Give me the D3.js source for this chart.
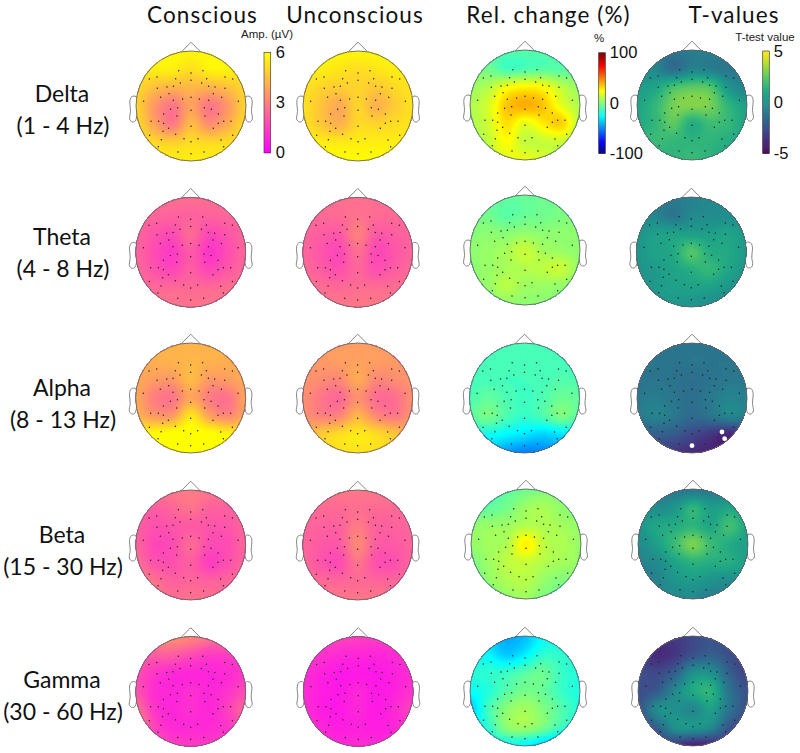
<!DOCTYPE html>
<html><head><meta charset="utf-8">
<script src="https://cdn.jsdelivr.net/npm/d3@7/dist/d3.min.js"></script>
<style>html,body{margin:0;padding:0;background:#fff}svg{display:block}</style>
</head><body><svg id="c" width="800" height="753"></svg>
<script>
// ---------- labels ----------
const columnTitles = ["Conscious","Unconscious","Rel. change (%)","T-values"];
const bandNames = ["Delta","Theta","Alpha","Beta","Gamma"];
const bandRanges = ["(1 - 4 Hz)","(4 - 8 Hz)","(8 - 13 Hz)","(15 - 30 Hz)","(30 - 60 Hz)"];

// ---------- field samples on a 7x7 scalp grid, rows front to back, columns left to right ----------
const deltaConscious = [[5.6,5.7,5.8,5.8,5.8,5.7,5.6],[5.5,5.6,5.6,5.2,5.7,5.7,5.5],[5.1,4.5,4.2,4.3,4.2,4.5,5.1],[5.0,3.6,2.8,3.8,2.8,3.6,5.0],[5.2,3.9,2.9,4.4,3.4,4.1,5.2],[5.5,5.1,4.9,5.2,5.1,5.2,5.5],[5.7,5.7,5.6,5.6,5.6,5.7,5.7]];
const deltaUnconscious = [[5.7,5.8,5.8,5.8,5.8,5.8,5.7],[5.6,5.6,5.4,5.2,5.4,5.6,5.6],[5.4,5.0,4.8,5.0,4.7,5.1,5.4],[5.3,4.6,4.0,5.0,4.2,4.8,5.3],[5.4,4.7,4.2,5.1,5.0,5.2,5.4],[5.7,5.6,5.5,5.6,5.6,5.6,5.7],[5.9,5.9,5.9,5.9,5.9,5.9,5.9]];
const deltaChange = [[-3,-5,-8,-8,-8,-5,-3],[0,-3,-12,-10,-8,-8,-3],[6,10,22,26,24,12,5],[9,17,36,41,36,20,9],[9,16,31,20,29,34,11],[9,13,25,13,14,15,9],[12,15,20,22,18,12,10]];
const deltaT = [[-.3,-.6,-1,-.8,-.6,-.5,-.3],[0,-.4,-1.5,-.6,-.8,-1,-.6],[.5,.8,2,2.4,2.2,.2,-.6],[.8,1.6,2.9,3.1,2.9,1.5,.6],[1,1.6,2.5,1.2,1.9,1.6,.8],[1.6,1.8,1.6,1.5,1.5,1.2,.8],[1.4,1.5,1.5,1.8,1.4,1,.8]];

const thetaConscious = [[2.6,2.6,2.6,2.6,2.6,2.6,2.6],[2.5,2.4,2.3,2.3,2.3,2.4,2.5],[2.4,2,1.8,2.5,1.7,2,2.4],[2.4,1.8,1.4,2.1,1.3,1.8,2.4],[2.5,2,1.7,2.2,1.7,2.1,2.5],[2.6,2.5,2.5,2.5,2.5,2.6,2.6],[2.7,2.7,2.7,2.7,2.7,2.7,2.7]];
const thetaUnconscious = [[2.6,2.6,2.6,2.6,2.6,2.6,2.6],[2.5,2.5,2.5,2.7,2.5,2.5,2.5],[2.4,2.2,2.1,3.0,2.1,2.2,2.4],[2.4,2,1.7,2.6,1.7,2,2.4],[2.5,2.2,1.9,2.4,1.9,2.2,2.5],[2.7,2.6,2.5,2.6,2.6,2.6,2.7],[2.8,2.8,2.8,2.8,2.8,2.8,2.8]];
const thetaChange = [[-1,-2,-5,-5,-3,-1,0],[0,-3,-8,-5,-3,-1,1],[1,2,1,3,2,3,2],[3,5,8,14,7,5,3],[3,5,8,10,12,14,4],[3,5,11,6,5,4,2],[2,3,3,3,3,2,2]];
const thetaT = [[-.3,-.5,-.8,-.6,-.3,-.2,0],[0,-.4,-1.1,-.3,-.2,-.1,.1],[.2,.6,.7,.6,.6,.8,.3],[.2,.7,1,2.3,1.2,1.0,.4],[.2,.4,.8,1.2,1.6,.9,.2],[.2,.4,.6,.7,.6,.2,.1],[.1,.2,.3,.2,-.1,0,.1]];

const alphaConscious = [[4.2,4.2,4.2,4.2,4.2,4.2,4.2],[4.1,4.1,4.2,4.3,4.2,4.1,4.1],[4,3.7,3.6,4.4,3.6,3.7,4],[4.0,3,2.8,3.9,3,2.7,3.9],[4.3,3.7,3.7,5.4,3.9,3.3,4],[5.9,6,6.2,6.3,6.2,5.8,5.4],[6.3,6.3,6.3,6.3,6.3,6.3,6.3]];
const alphaUnconscious = [[3.7,3.7,3.7,3.7,3.7,3.7,3.7],[3.6,3.6,3.7,3.8,3.7,3.6,3.6],[3.5,3.3,3.2,4,3.2,3.3,3.5],[3.4,2.8,2.5,3.4,2.6,2.6,3.4],[3.5,3.1,3.2,4.3,3.3,2.9,3.5],[4.1,4.8,5.2,5.5,5.2,4.7,4.0],[4.5,5.0,5.3,5.3,5.2,4.8,4.3]];
const alphaChange = [[-11,-11,-10,-10,-10,-11,-11],[-12,-11,-11,-11,-11,-11,-12],[-12,-11,-12,-12,-11,-9,-10],[-10,-6,-10,-13,-10,-4,-6],[-8,-2,-10,-15,-10,-1,-8],[-20,-22,-26,-30,-34,-30,-24],[-34,-38,-44,-50,-48,-42,-34]];
const alphaT = [[-1.2,-1.2,-1.2,-1.2,-1.2,-1.2,-1.2],[-1.1,-1.1,-1.2,-1.1,-1.1,-1.1,-1.1],[-1.2,-1.1,-1.2,-1.4,-1.2,-1,-1],[-1,-.8,-1.1,-1.4,-1.0,-.5,-.7],[-1,-.6,-1,-1.6,-1.2,-.5,-.7],[-2.2,-2,-2.2,-2.8,-3.4,-4,-3.4],[-3,-3,-3.4,-3.8,-4,-4.2,-3.6]];

const betaConscious = [[2.9,2.9,2.8,2.9,2.8,2.7,2.7],[2.4,2.2,2.4,2.7,2.3,2.3,2.4],[2.3,1.9,2.0,2.1,2,2,2.4],[2.4,1.7,1.8,2.5,1.8,1.8,2.4],[2.6,2.0,1.9,2.2,1.5,1.9,2.4],[3.2,2.7,2.3,2.4,2.3,2.4,2.7],[3,2.8,2.6,2.7,2.6,2.6,2.7]];
const betaUnconscious = [[2.8,2.8,2.8,2.8,2.8,2.8,2.8],[2.5,2.5,2.5,2.6,2.5,2.5,2.5],[2.4,2.3,2.3,2.9,2.3,2.3,2.4],[2.4,2.1,2.1,3.2,2.2,2.1,2.4],[2.5,2,1.8,2.7,1.9,1.9,2.4],[2.7,2.5,2.4,2.5,2.4,2.4,2.7],[2.8,2.8,2.8,2.8,2.8,2.8,2.8]];
const betaChange = [[-6,-8,-6,-3,0,2,2],[-5,-6,-2,6,8,3,2],[3,5,6,10,9,7,4],[4,7,10,28,12,9,5],[-1,6,12,14,10,7,5],[-3,4,9,11,4,0,3],[-1,0,4,6,0,-3,-1]];
const betaT = [[-.6,-.8,-1,-1.1,-1,-.6,-.3],[.2,-.2,.2,1.5,.5,.8,.4],[.2,.9,1.1,1.5,.9,2,.8],[-.2,.6,1.8,3.0,1.8,1.1,.6],[-.5,-.2,.8,1.4,1.2,1.2,.6],[-.7,-.5,.2,.5,.1,-.1,.4],[-.4,-.3,-.3,-.3,-.8,-.3,.1]];

const gammaConscious = [[3.3,3.4,3.4,3.2,2.8,2.6,2.4],[2.4,2.2,2.2,1.8,1.4,1.5,1.6],[1.9,1.3,1,.9,.9,1,1.4],[2.0,1.1,.9,1.1,.9,1.2,1.8],[2.8,1.3,.9,1.1,.9,1.5,2.4],[3.3,1.7,1,1,1,1.3,1.9],[2.8,2,1.6,1.4,1.4,1.7,1.9]];
const gammaUnconscious = [[1.6,1.6,1.6,1.5,1.4,1.4,1.4],[1.3,1.2,1,.9,.9,1,1.2],[1.1,.8,.6,.6,.6,.8,1.1],[1,.7,.6,.9,.6,.8,1.2],[1.1,.7,.6,.9,.6,1,1.6],[1.2,.9,.7,.8,.7,.9,1.3],[1.3,1.1,1,1,1,1,1.2]];
const gammaChange = [[-30,-36,-41,-38,-25,-22,-20],[-22,-26,-36,-28,-16,-16,-18],[-18,-16,-14,-8,-4,-14,-18],[-24,-18,-8,-2,-5,-14,-20],[-36,-12,2,7,0,-9,-18],[-28,-16,2,5,-2,-14,-20],[-26,-24,-24,-26,-36,-40,-28]];
const gammaT = [[-3.2,-3.4,-3.3,-2.8,-2.4,-2.8,-3],[-3,-3.8,-3.4,-2.5,-2,-2.6,-3.2],[-2.6,-2.8,-2,0,0,-2,-3],[-2.6,-2.2,-.4,1,1.4,-1.2,-2.6],[-2.6,-.2,0,-.4,.6,-1.2,-2.6],[-3,-2,0,.2,-.4,-2.4,-3],[-3.6,-3.4,-3.4,-4.2,-4,-3.4,-3.4]];

const fields = [
  [deltaConscious,deltaUnconscious,deltaChange,deltaT],
  [thetaConscious,thetaUnconscious,thetaChange,thetaT],
  [alphaConscious,alphaUnconscious,alphaChange,alphaT],
  [betaConscious,betaUnconscious,betaChange,betaT],
  [gammaConscious,gammaUnconscious,gammaChange,gammaT]
];

// electrode locations in head units (x right, y back)
const electrodes = [[-.224,-.642],[0,-.6],[.218,-.642],[-.758,-.491],[-.618,-.527],[-.279,-.497],[0,-.467],[.285,-.497],[.618,-.527],[.758,-.491],[-.194,-.418],[.194,-.418],[-.612,-.321],[-.436,-.345],[-.321,-.358],[.321,-.358],[.436,-.345],[.618,-.321],[-.4,-.224],[.406,-.224],[-.552,-.158],[-.152,-.127],[0,-.158],[.152,-.127],[.558,-.158],[-.321,-.103],[.321,-.103],[-.861,-.085],[.861,-.085],[-.242,.03],[.242,.03],[0,.079],[-.37,.06],[.37,.06],[-.497,.145],[.497,.145],[-.255,.182],[.255,.182],[-.727,.279],[-.588,.279],[-.497,.315],[.497,.315],[.594,.279],[.727,.279],[-.406,.406],[.406,.406],[0,.37],[-.509,.461],[-.752,.533],[-.279,.515],[.758,.533],[-.539,.612],[-.127,.594],[.127,.594],[.545,.618],[0,.648],[-.594,.739],[.594,.739],[-.236,.836],[0,.867],[.236,.836]];
const significantAlphaT = [54,57,59];

// colour scale definitions
const ampTicks = [0,3,6], changeTicks = [-100,0,100], tTicks = [-5,0,5];
const jetStops = ["#000080","#0000ff","#00ffff","#ffff00","#ff0000","#800000"];
const jetDomain = [-100,-75,-25,25,75,100];

// ---------- layout (not data) ----------
const colCx = [[191,358,525,692],[190.7,357.7,525,691.3],[190.7,357.7,524.5,692],[190.7,357.7,526,693],[190.7,358.3,525,693]];
const rowCy = [[106,106,105,105],[252.3,252.3,250,252],[398,398,398,398],[545,545,544,544],[691.5,691.5,691,691]];
const R = 55, N = 70;

const ampColor = d3.scaleLinear().domain([0,6]).range(["#ff00ff","#ffff00"]).clamp(true);
const jetColor = d3.scaleLinear().domain(jetDomain).range(jetStops).clamp(true);
const tColor = d3.scaleSequential(d3.interpolateViridis).domain([-5,5]).clamp(true);
const columnScale = [ampColor,ampColor,jetColor,tColor];
const columnDomain = [[0,6],[0,6],[-100,100],[-5,5]];

const svg = d3.select("#c");
svg.append("rect").attr("width",800).attr("height",753).attr("fill","#fff");

const cr = (a,b,c,d,t)=>0.5*((2*b)+(c-a)*t+(2*a-5*b+4*c-d)*t*t+(3*b-a-3*c+d)*t*t*t);
function sample(grid,u,v){
  const m = grid.length-1, gx=(u+1)/2*m, gy=(v+1)/2*m;
  const ix=Math.min(m-1,Math.floor(gx)), iy=Math.min(m-1,Math.floor(gy));
  const tx=gx-ix, ty=gy-iy, cl=i=>Math.max(0,Math.min(m,i));
  const rows=[-1,0,1,2].map(dy=>{
    const r=grid[cl(iy+dy)];
    return cr(r[cl(ix-1)],r[ix],r[ix+1],r[cl(ix+2)],tx);
  });
  return cr(rows[0],rows[1],rows[2],rows[3],ty);
}

const defs = svg.append("defs");
const earPts = [[1,-.17],[1.075,-.17],[1.11,-.1],[1.1,.1],[1.115,.24],[1.07,.29],[1.01,.27]];
const nosePts = [[-.18,-.98],[0,-1.16],[.18,-.98]];

fields.forEach((row,ri)=>row.forEach((grid,ci)=>{
  const cx=colCx[ri][ci], cy=rowCy[ri][ci];
  const x=d3.scaleLinear().domain([-1,1]).range([cx-R,cx+R]);
  const y=d3.scaleLinear().domain([-1,1]).range([cy-R,cy+R]);
  const g=svg.append("g");
  const stroke="#666";
  const earLine=d3.line().curve(d3.curveCatmullRomClosed.alpha(.5));
  [1,-1].forEach(s=>g.append("path")
    .attr("d",earLine(earPts.map(p=>[x(s*p[0]),y(p[1])])))
    .attr("fill","#fff").attr("stroke","#777").attr("stroke-width",.9));
  g.append("path").attr("d",d3.line()(nosePts.map(p=>[x(p[0]),y(p[1])])))
    .attr("fill","none").attr("stroke",stroke).attr("stroke-width",.8);
  const [lo,hi]=columnDomain[ci], color=columnScale[ci];
  const clipId=`clip${ri}${ci}`;
  defs.append("clipPath").attr("id",clipId).append("circle").attr("cx",cx).attr("cy",cy).attr("r",R);
  const vals=new Array(N*N);
  for(let j=0;j<N;j++)for(let i=0;i<N;i++){
    const v=sample(grid,(i+.5)/N*2-1,(j+.5)/N*2-1);
    vals[j*N+i]=Math.max(lo,Math.min(hi,v));
  }
  const levels=100, step=(hi-lo)/levels;
  const th=d3.range(levels).map(k=>lo+k*step);
  const contours=d3.contours().size([N,N]).smooth(true).thresholds(th)(vals);
  const path=d3.geoPath(d3.geoIdentity().scale(2*R/N).translate([cx-R,cy-R]));
  g.append("g").attr("clip-path",`url(#${clipId})`)
    .selectAll("path").data(contours.filter(c=>c.coordinates.length)).join("path")
    .attr("d",path).attr("fill",d=>color(d.value+step/2));
  g.append("circle").attr("cx",cx).attr("cy",cy).attr("r",R).attr("fill","none").attr("stroke",stroke).attr("stroke-width",.9);
  g.append("g").selectAll("circle").data(electrodes).join("circle")
    .attr("cx",d=>x(d[0])).attr("cy",d=>y(d[1])).attr("r",.75).attr("fill","#222");
  if(ri===2&&ci===3){
    g.append("g").selectAll("circle").data(significantAlphaT.map(i=>electrodes[i])).join("circle")
      .attr("cx",d=>x(d[0])).attr("cy",d=>y(d[1])).attr("r",2.4).attr("fill","#fff");
  }
}));

// colour bars
const bars=[
 {x:264,y0:152.7,y1:52.3,w:6.7,color:ampColor,dom:[0,6],ticks:ampTicks,label:"Amp. (µV)",lx:267,ly:38,tx:5,fs:11.5},
 {x:598.7,y0:153.3,y1:52.7,w:6.6,color:jetColor,dom:[-100,100],ticks:changeTicks,label:"%",lx:599,ly:42,tx:4.5,fs:11.5},
 {x:762.7,y0:153.3,y1:51,w:6.6,color:tColor,dom:[-5,5],ticks:tTicks,label:"T-test value",lx:765,ly:41,tx:4.5,fs:11.5}
];
bars.forEach(b=>{
  const s=d3.scaleLinear().domain(b.dom).range([b.y0,b.y1]);
  const g=svg.append("g");
  const n=100, ds=(b.dom[1]-b.dom[0])/n;
  g.selectAll("rect").data(d3.range(n)).join("rect")
    .attr("x",b.x).attr("width",b.w)
    .attr("y",i=>s(b.dom[0]+(i+1)*ds)).attr("height",i=>s(b.dom[0]+i*ds)-s(b.dom[0]+(i+1)*ds)+.6)
    .attr("fill",i=>b.color(b.dom[0]+(i+.5)*ds));
  g.append("rect").attr("x",b.x).attr("y",b.y1).attr("width",b.w).attr("height",b.y0-b.y1)
    .attr("fill","none").attr("stroke","#444").attr("stroke-width",.7);
  const ax=g.append("g").attr("transform",`translate(${b.x+b.w},0)`)
    .call(d3.axisRight(s).tickValues(b.ticks).tickSize(0).tickPadding(b.tx).tickFormat(String));
  ax.select(".domain").remove();
  ax.selectAll("text").attr("font-family","'Liberation Sans',Arial,sans-serif").attr("font-size",16.5).attr("fill","#111");
  g.append("text").attr("x",b.lx).attr("y",b.ly).attr("text-anchor","middle")
    .attr("font-family","'Liberation Sans',Arial,sans-serif").attr("font-size",b.fs).attr("fill","#222").text(b.label);
});

// titles
const titleFont="Lato,'Open Sans',sans-serif";
const titleX=[202.5,355,548.5,734];
svg.append("g").selectAll("text").data(columnTitles).join("text")
  .attr("x",(d,i)=>titleX[i]).attr("y",22.5).attr("text-anchor","middle")
  .attr("font-family",titleFont).attr("font-size",22.5).attr("letter-spacing",1.1).attr("fill","#111").text(d=>d);
const rowBase=[101.5,245,395.5,542.5,688];
bandNames.forEach((n,i)=>{
  svg.append("text").attr("x",62).attr("y",rowBase[i]).attr("text-anchor","middle")
    .attr("font-family",titleFont).attr("font-size",23).attr("fill","#111").text(n);
  svg.append("text").attr("x",63).attr("y",rowBase[i]+32).attr("text-anchor","middle")
    .attr("font-family",titleFont).attr("font-size",23).attr("fill","#111").text(bandRanges[i]);
});
</script></body></html>
